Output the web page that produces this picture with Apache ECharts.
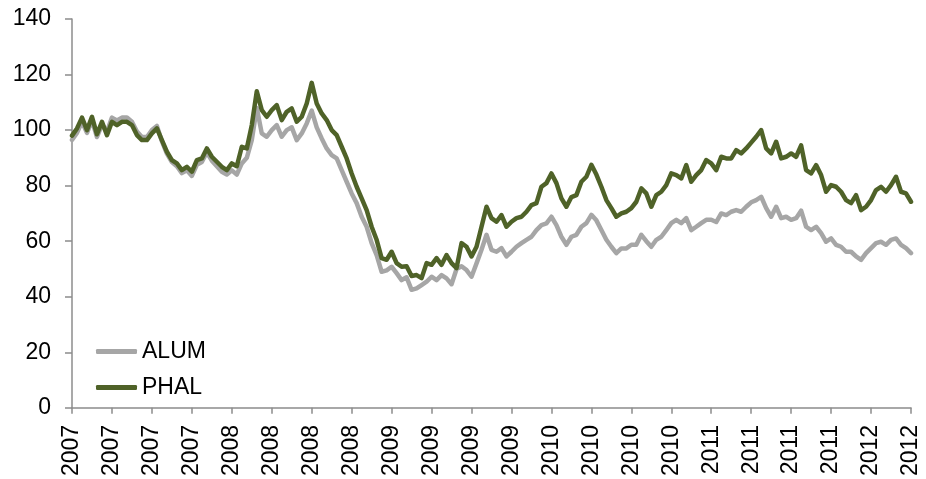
<!DOCTYPE html>
<html>
<head>
<meta charset="utf-8">
<script src="https://cdn.jsdelivr.net/npm/echarts@6/dist/echarts.min.js"></script>
<style>
html,body{margin:0;padding:0;background:#fff;}
#chart{width:926px;height:479px;}
</style>
</head>
<body>
<div id="chart"></div>
<script>
// Quarterly tick labels along the x axis
var tickLabels = ['2007','2007','2007','2007','2008','2008','2008','2008','2009','2009','2009','2009',
  '2010','2010','2010','2010','2011','2011','2011','2011','2012','2012'];
// Samples per quarter interval
var stepsPerTick = 8;

var alum = [
  96.5, 99, 103, 99, 103.5, 97.5, 102, 99.5,
  104.5, 103.5, 104.5, 104.5, 103, 99.5, 97.5, 97.5,
  100, 101.5, 96, 91.5, 88.5, 87, 84.5, 85.5,
  83.5, 87.5, 88.5, 92, 89, 87, 85, 84,
  85.5, 84, 88, 90, 96.4, 108, 98.8, 97.6,
  100, 101.8, 97.6, 100, 101, 96.4, 98.8, 102.4,
  107, 101, 97, 93.4, 91, 89.8, 85.6, 81.4,
  77.2, 73.7, 68.8, 65.2, 59.3, 55, 49, 49.5,
  50.8, 48.5, 46, 47, 42.5, 43, 44.2, 45.4,
  47.2, 46, 47.8, 46.6, 44.5, 50, 51, 49.6,
  47.2, 52, 56.9, 62.3, 56.9, 56.2, 57.5, 54.5,
  56.2, 58, 59.3, 60.5, 61.6, 64, 65.8, 66.4,
  68.8, 65.8, 61.6, 58.7, 61.6, 62.3, 65.2, 66.5,
  69.5, 67.5, 64, 60.5, 58, 55.7, 57.4, 57.4,
  58.7, 58.7, 62.3, 60, 58, 60.5, 61.6, 64,
  66.5, 67.7, 66.5, 68.3, 64, 65.2, 66.5, 67.7,
  67.7, 66.9, 70, 69.4, 70.6, 71.2, 70.6, 72.4,
  74, 74.8, 76, 71.9, 68.8, 72.4, 68.3, 68.8,
  67.7, 68.3, 71, 65.2, 64, 65.2, 62.9, 59.8,
  61, 58.7, 58, 56.2, 56.2, 54.5, 53.3, 55.7,
  57.5, 59.3, 59.8, 58.7, 60.5, 61, 58.7, 57.5,
  55.7
];

var phal = [
  98, 100.6, 104.5, 100, 104.8, 98.5, 103, 98.2,
  103, 101.8, 103, 103, 101.8, 98.2, 96.4, 96.4,
  98.8, 100.6, 96.4, 92.2, 89.2, 88, 85.6, 86.8,
  85, 89.2, 89.8, 93.4, 90.4, 88.6, 86.8, 85.6,
  88, 87, 94, 93.4, 101.8, 114, 107.2, 104.8,
  107.2, 109, 103.6, 106.6, 107.8, 103, 104.8, 109.6,
  117, 109.6, 106, 103.6, 100, 98.2, 94, 89.8,
  84.4, 79.6, 75.4, 71.2, 65.2, 60.5, 53.9, 53.3,
  56.2, 52.1, 50.8, 51, 47.5, 47.8, 46.7, 52.1,
  51.5, 53.9, 51.5, 55, 52.1, 50.3, 59.3, 58,
  54.5, 58, 65.2, 72.4, 68.3, 67, 69.4, 65.2,
  67, 68.3, 68.8, 70.6, 73, 73.7, 79.6, 80.9,
  84.4, 80.9, 75.4, 72.4, 75.9, 76.6, 81.4, 83.2,
  87.5, 84, 79.6, 74.8, 71.9, 68.8, 70, 70.6,
  71.9, 74.2, 79, 77.2, 72.4, 76.6, 77.8, 80.2,
  84.4, 83.8, 82.6, 87.4, 81.4, 83.8, 85.6, 89.2,
  88, 85.6, 90.4, 89.8, 89.8, 92.8, 91.6, 93.4,
  95.5, 97.6, 100, 93.4, 91.6, 95.8, 89.8, 90.4,
  91.6, 90.4, 94.5, 85.6, 84.4, 87.4, 83.8, 77.8,
  80.2, 79.6, 77.8, 74.8, 73.7, 76.6, 71.2, 72.4,
  74.8, 78.4, 79.6, 77.8, 80.2, 83.2, 77.8, 77.2,
  74.2
];

function toPoints(arr) {
  return arr.map(function (v, i) { return [i / stepsPerTick, v]; });
}

var FONT = '"Liberation Sans", Arial, Helvetica, sans-serif';
var AXIS_COLOR = '#8c8c8c';

var chart = echarts.init(document.getElementById('chart'), null, {renderer: 'canvas'});
chart.setOption({
  animation: false,
  backgroundColor: '#ffffff',
  grid: {left: 72, right: 15, top: 19, bottom: 71, containLabel: false},
  legend: {
    orient: 'vertical',
    left: 96,
    top: 340,
    padding: 0,
    itemWidth: 41,
    itemHeight: 5,
    itemGap: 13,
    icon: 'roundRect',
    textStyle: {fontFamily: FONT, fontSize: 23, color: '#000', lineHeight: 23},
    data: ['ALUM', 'PHAL']
  },
  xAxis: {
    type: 'value',
    min: 0,
    max: tickLabels.length - 1,
    interval: 1,
    splitLine: {show: false},
    axisLine: {show: true, lineStyle: {color: AXIS_COLOR, width: 1.5}},
    axisTick: {show: true, length: 6, inside: false, lineStyle: {color: AXIS_COLOR, width: 1.5}},
    axisLabel: {
      rotate: 90,
      margin: 17,
      fontFamily: FONT,
      fontSize: 23,
      color: '#000',
      showMinLabel: true,
      showMaxLabel: true,
      formatter: function (v) { return tickLabels[Math.round(v)] || ''; }
    }
  },
  yAxis: {
    type: 'value',
    min: 0,
    max: 140,
    interval: 20,
    splitLine: {show: false},
    axisLine: {show: true, lineStyle: {color: AXIS_COLOR, width: 1.5}},
    axisTick: {show: true, length: 7, lineStyle: {color: AXIS_COLOR, width: 1.5}},
    axisLabel: {margin: 21, fontFamily: FONT, fontSize: 23, color: '#000'}
  },
  series: [
    {
      name: 'ALUM', type: 'line', data: toPoints(alum), showSymbol: false, symbol: 'none',
      lineStyle: {color: '#a6a6a6', width: 4.5, cap: 'round', join: 'round'},
      itemStyle: {color: '#a6a6a6'}
    },
    {
      name: 'PHAL', type: 'line', data: toPoints(phal), showSymbol: false, symbol: 'none',
      lineStyle: {color: '#4f6228', width: 4.5, cap: 'round', join: 'round'},
      itemStyle: {color: '#4f6228'}
    }
  ]
});
</script>
</body>
</html>
